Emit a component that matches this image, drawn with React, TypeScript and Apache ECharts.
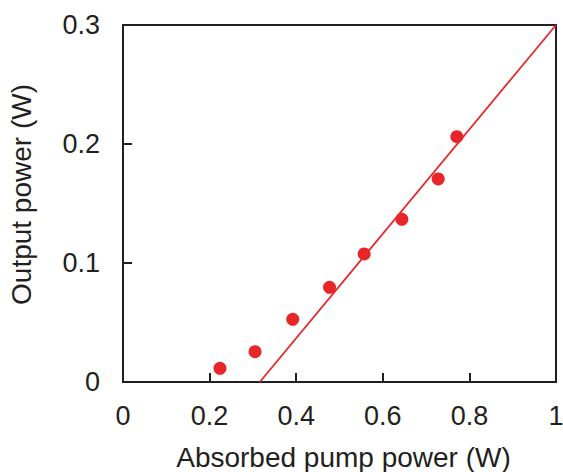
import React, { useEffect, useRef } from "react";
import * as echarts from "echarts";

const pumpPower = [0.224, 0.305, 0.392, 0.477, 0.557, 0.644, 0.728, 0.771];
const outputPower = [0.0115, 0.0255, 0.0527, 0.0796, 0.1076, 0.1367, 0.1706, 0.2061];
const fitX = [0.316, 1.0];
const fitY = [0.0, 0.3];

const RED = "#e8262a";
const INK = "#231f20";
const FONT = "'Liberation Sans', Arial, sans-serif";

export default function App() {
  const ref = useRef<HTMLDivElement>(null);
  useEffect(() => {
    if (!ref.current) return;
    const chart = echarts.init(ref.current, undefined, { renderer: "svg" });
    const axisLine = { show: true, lineStyle: { color: INK, width: 2 } };
    chart.setOption({
      animation: false,
      backgroundColor: "#ffffff",
      grid: {
        left: 123,
        right: 7,
        top: 25,
        bottom: 90,
        show: true,
        borderColor: INK,
        borderWidth: 2,
        backgroundColor: "transparent",
        outerBoundsMode: "none",
        containLabel: false,
      },
      xAxis: {
        type: "value",
        min: 0,
        max: 1,
        interval: 0.2,
        name: "Absorbed pump power (W)",
        nameLocation: "middle",
        nameGap: 61,
        nameTextStyle: { fontSize: 28, color: INK, fontFamily: FONT, padding: [0, 0, 0, 8] },
        axisLine,
        axisTick: { show: true, inside: true, length: 9, lineStyle: { color: INK, width: 2 } },
        axisLabel: {
          fontSize: 27,
          color: INK,
          fontFamily: FONT,
          margin: 20,
          formatter: (v: number) => String(Math.round(v * 10) / 10),
        },
        splitLine: { show: false },
      },
      yAxis: {
        type: "value",
        min: 0,
        max: 0.3,
        interval: 0.1,
        name: "Output power (W)",
        nameLocation: "middle",
        nameGap: 88,
        nameRotate: 90,
        nameTextStyle: { fontSize: 28, color: INK, fontFamily: FONT, padding: [0, 0, 0, 18] },
        axisLine,
        axisTick: { show: true, inside: true, length: 9, lineStyle: { color: INK, width: 2 } },
        axisLabel: {
          fontSize: 27,
          color: INK,
          fontFamily: FONT,
          margin: 23,
          formatter: (v: number) => String(Math.round(v * 10) / 10),
        },
        splitLine: { show: false },
      },
      series: [
        {
          type: "line",
          data: fitX.map((x, i) => [x, fitY[i]]),
          showSymbol: false,
          symbol: "none",
          lineStyle: { color: RED, width: 1.8 },
          z: 2,
        },
        {
          type: "scatter",
          data: pumpPower.map((x, i) => [x, outputPower[i]]),
          symbol: "circle",
          symbolSize: 13,
          itemStyle: { color: RED, opacity: 1 },
          z: 3,
        },
      ],
    });
    return () => chart.dispose();
  }, []);
  return <div ref={ref} style={{ width: 563, height: 472, position: "absolute", left: 0, top: 0 }} />;
}
